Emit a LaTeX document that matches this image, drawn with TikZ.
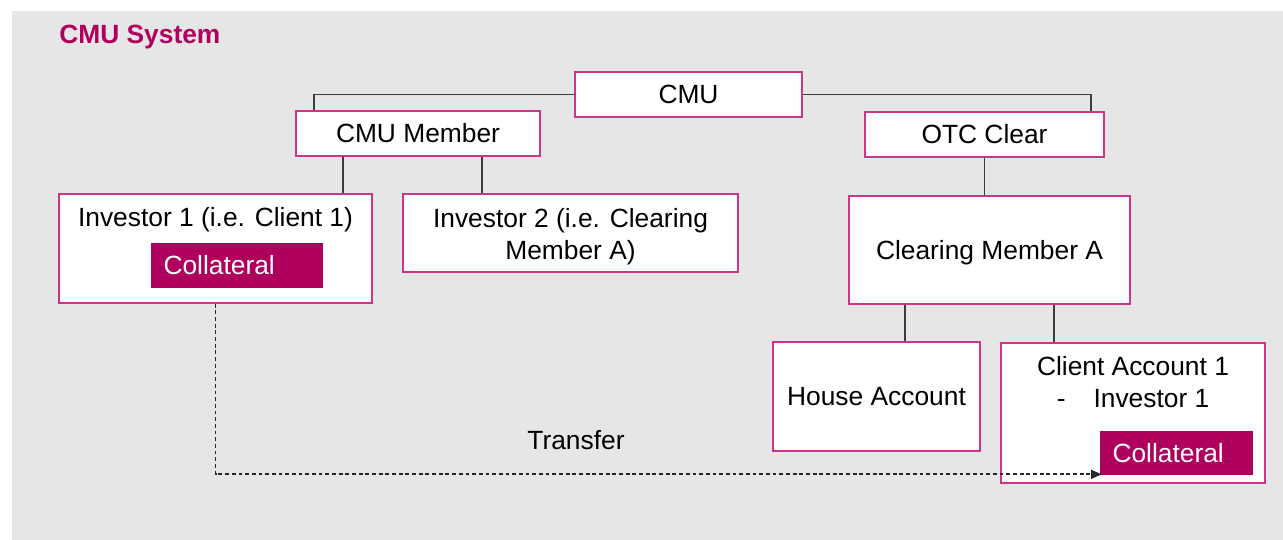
\documentclass[tikz,border=0pt]{standalone}
\usepackage{fontspec}
\setmainfont{Liberation Sans}
\usepackage{xcolor}
\definecolor{cmupink}{RGB}{206,52,138}
\definecolor{cmuberry}{RGB}{176,0,94}
\definecolor{cmugray}{RGB}{230,230,230}
\definecolor{linegray}{RGB}{60,60,60}
\usetikzlibrary{arrows.meta}

\begin{document}
\begin{tikzpicture}[x=0.02cm, y=-0.02cm,
  every node/.style={font=\fontsize{15}{18.5}\selectfont},
  onerow/.style={text height=10.75pt, text depth=0pt},
  acct/.style={draw=cmupink, line width=0.85pt, fill=white, inner sep=0pt},
  coll/.style={onerow, fill=cmuberry, text=white, align=left, inner xsep=0.25cm, inner ysep=0pt, minimum height=0.89cm},
  link/.style={draw=linegray, line width=0.8pt}]
  \useasboundingbox (0,0) rectangle (1283,540);
  \fill[cmugray] (12,11) rectangle (1283,540);

  \node[onerow, anchor=west, inner sep=0pt, text=cmuberry, font=\fontsize{15}{18}\selectfont\bfseries] (title) at (59,34) {CMU System};

  % top of the tree
  \node[acct, onerow, minimum width=4.54cm, minimum height=0.9cm] (cmu) at (688.5,94.5) {CMU};
  \node[acct, onerow, minimum width=4.88cm, minimum height=0.9cm] (member) at (418,133.5) {CMU Member};
  \node[acct, onerow, minimum width=4.78cm, minimum height=0.9cm] (otc) at (984.5,134.5) {OTC Clear};

  % investors
  \node[acct, minimum width=6.26cm, minimum height=2.18cm] (invone) at (215.5,248.5) {};
  \node[onerow] (invonetxt) at (215.5,217.5) {Investor 1 (i.e. Client 1)};
  \node[coll, text width=2.94cm] (collone) at (237,265.5) {Collateral};
  \node[acct, minimum width=6.7cm, minimum height=1.56cm] (invtwo) at (570.5,233) {};
  \node[align=center] (invtwotxt) at (570.5,236.5) {Investor 2 (i.e. Clearing\\Member A)};

  % clearing member and accounts
  \node[acct, onerow, minimum width=5.62cm, minimum height=2.16cm] (cma) at (989.5,250) {Clearing Member A};
  \node[acct, onerow, minimum width=4.14cm, minimum height=2.18cm] (house) at (876.5,396.5) {House Account};
  \node[acct, minimum width=5.28cm, minimum height=2.8cm] (client) at (1133,413) {};
  \node[align=center] (clienttxt) at (1133,382) {Client Account 1\\-\hspace{0.56cm}Investor 1};
  \node[coll, text width=2.56cm, minimum height=0.88cm] (colltwo) at (1176.5,453) {Collateral};

  \coordinate (cmuL) at (314,0);
  \coordinate (cmuR) at (1091,0);
  \coordinate (mbrA) at (343,0);
  \coordinate (mbrB) at (482,0);
  \coordinate (cbrA) at (905,0);
  \coordinate (cbrB) at (1054,0);

  \draw[link] (cmu.west) -| (cmuL |- member.north);
  \draw[link] (cmu.east) -| (cmuR |- otc.north);
  \draw[link] (mbrA |- member.south) -- (mbrA |- invone.north);
  \draw[link] (mbrB |- member.south) -- (mbrB |- invtwo.north);
  \draw[link] (otc.south) -- (otc.south |- cma.north);
  \draw[link] (cbrA |- cma.south) -- (cbrA |- house.north);
  \draw[link] (cbrB |- cma.south) -- (cbrB |- client.north);

  \draw[link, draw=black!85, line width=1pt, dash pattern=on 2.2pt off 1.6pt, -{Triangle[length=6pt,width=5pt]}] (invone.south) |- ([yshift=0.02cm,xshift=0.04cm]colltwo.south west);
  \node[onerow] (transfer) at (576,440.5) {Transfer};
\end{tikzpicture}
\end{document}
